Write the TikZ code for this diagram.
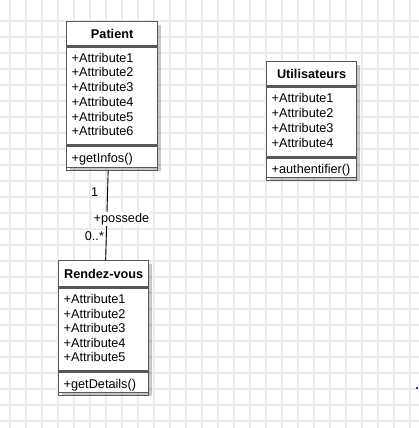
\documentclass[tikz,border=0pt]{standalone}
\usepackage{fontspec}
\setmainfont{Liberation Sans}
\usetikzlibrary{calc,shadows}
\definecolor{gridc}{RGB}{236,236,236}
\definecolor{boxc}{RGB}{88,88,88}
\definecolor{dotc}{RGB}{40,40,230}
\begin{document}
\begin{tikzpicture}[x=1pt,y=-1pt,
  gridline/.style={draw=gridc,line width=1.3pt},
  outer/.style={draw=boxc,line width=1.3pt,fill=white,inner sep=0pt,anchor=north west,
    minimum width=#1,drop shadow={shadow xshift=3pt,shadow yshift=-3pt,opacity=.22,fill=black}},
  part/.style={draw=boxc,line width=1.3pt,inner sep=0pt,anchor=north west},
  txt/.style={inner sep=0pt,font=\fontsize{12.7}{15}\selectfont,text=black},
  head/.style={txt,anchor=base,font=\fontsize{12.7}{15}\selectfont\bfseries},
  item/.style={txt,anchor=base west},
  lbl/.style={txt,anchor=base},
  link/.style={draw=black,line width=0.9pt}
]
\useasboundingbox (0,0) rectangle (419,428);
\fill[white] (0,0) rectangle (419,428);
% grid
\foreach \gx in {10,26,...,410} \draw[gridline] (\gx,0) -- (\gx,428);
\foreach \gy in {21,37,...,421} \draw[gridline] (0,\gy) -- (419,\gy);

% ---------- Patient ----------
\node[outer=91pt,minimum height=146pt] (pat) at (66,21) {};
\node[part,minimum width=91pt,minimum height=24pt] (pat-h) at (pat.north west) {};
\node[part,minimum width=91pt,minimum height=98pt] (pat-a) at (pat-h.south west) {};
\node[part,minimum width=91pt,minimum height=24pt] (pat-m) at (pat-a.south west) {};
\node[head] (pat-t) at ($(pat-h.north)+(0,17.5)$) {Patient};
\foreach \i in {1,...,6}
  \node[item] (pat-a\i) at ($(pat-a.north west)+(5.5,16+14.7*\i-14.7)$) {+Attribute\i};
\node[item] (pat-m1) at ($(pat-m.north west)+(5.5,17)$) {+getInfos()};

% ---------- Utilisateurs ----------
\node[outer=90pt,minimum height=116pt] (usr) at (266,61) {};
\node[part,minimum width=90pt,minimum height=24pt] (usr-h) at (usr.north west) {};
\node[part,minimum width=90pt,minimum height=70pt] (usr-a) at (usr-h.south west) {};
\node[part,minimum width=90pt,minimum height=22pt] (usr-m) at (usr-a.south west) {};
\node[head] (usr-t) at ($(usr-h.north)+(0,17.5)$) {Utilisateurs};
\foreach \i in {1,...,4}
  \node[item] (usr-a\i) at ($(usr-a.north west)+(5.5,16.5+14.8*\i-14.8)$) {+Attribute\i};
\node[item] (usr-m1) at ($(usr-m.north west)+(5.5,16)$) {+authentifier()};

% ---------- Rendez-vous ----------
\node[outer=90pt,minimum height=132pt] (rdv) at (58,260) {};
\node[part,minimum width=90pt,minimum height=26pt] (rdv-h) at (rdv.north west) {};
\node[part,minimum width=90pt,minimum height=83pt] (rdv-a) at (rdv-h.south west) {};
\node[part,minimum width=90pt,minimum height=23pt] (rdv-m) at (rdv-a.south west) {};
\node[head] (rdv-t) at ($(rdv-h.north)+(0,18)$) {Rendez-vous};
\foreach \i in {1,...,5}
  \node[item] (rdv-a\i) at ($(rdv-a.north west)+(5.5,16.5+14.5*\i-14.5)$) {+Attribute\i};
\node[item] (rdv-m1) at ($(rdv-m.north west)+(5.5,16.5)$) {+getDetails()};

% ---------- association ----------
\draw[link] ([xshift=-4pt]pat-m.south) -- ([xshift=2pt]rdv-h.north);
\node[lbl] (m1) at ($(pat-m.south)+(-17.5,25.5)$) {1};
\node[lbl,fill=white,inner xsep=0.5pt,inner ysep=1pt] (role) at ($(pat-m.south)+(9.3,51.5)$) {+possede};
\node[txt,anchor=base east] (m2) at ($(rdv-h.north)+(0.5,-19.5)$) {0..*};

% stray dot
\fill[dotc] (416.2,387.2) rectangle (418.2,389.2);
\end{tikzpicture}
\end{document}
